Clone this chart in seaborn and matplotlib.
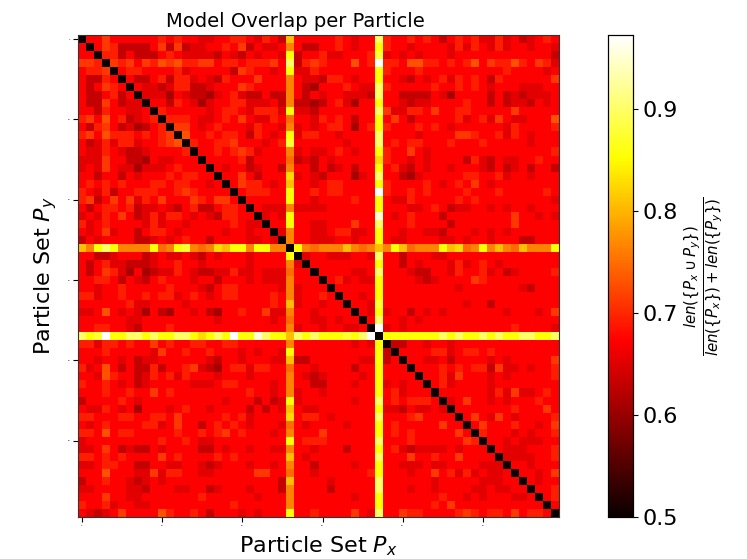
import numpy as np
import matplotlib
matplotlib.use("Agg")
import matplotlib.pyplot as plt
import seaborn as sns

# ---------------- data ----------------
n_particles = 60
tick_positions = [0, 10, 20, 30, 40, 50]
tick_labels = ["0", "10", "20", "30", "40", "50"]
diagonal_value = 0.5

# colour levels (digit = red shades, letters = orange..white)
level_values = {
    "2": 0.612, "3": 0.632, "4": 0.652, "5": 0.672, "6": 0.692,
    "7": 0.712, "8": 0.730, "9": 0.748,
    "A": 0.765, "B": 0.785, "C": 0.807, "D": 0.825, "E": 0.853,
    "F": 0.875, "G": 0.900, "H": 0.925, "I": 0.950, "J": 0.972,
}

# lower triangle, row i holds columns 0 .. i-1 (matrix is symmetric)
lower_rows = [
    "5",
    "55",
    "776",
    "5667",
    "53365",
    "535765",
    "5335635",
    "53375344",
    "553655445",
    "6758563456",
    "53675342356",
    "675866656567",
    "5346466455678",
    "54465433455556",
    "444755332544555",
    "4547544244456555",
    "55355354555656655",
    "565656555665665545",
    "6546355666556765555",
    "67357574657555765775",
    "53566563445435633566" + "5",
    "45465753464665454366" + "55",
    "64565555464554555556" + "544",
    "54574553566545555545" + "5455",
    "35455553345456553555" + "54454",
    "CAEGEAAAAE9AEFA9ADCE" + "EAEEAA",
    "55334555345445435455" + "545555E",
    "53564433345565545555" + "545555A4",
    "53576425234465433446" + "445444955",
    "55665354356555455355" + "545444A555",
    "55455655555655543566" + "555554A4555",
    "66455655656645654566" + "555565A45565",
    "55555564455554555555" + "555565C455455",
    "44585454253255453255" + "655744A5545555",
    "55555544555555555455" + "555545955445455",
    "55665543555655555555" + "555555A455455445",
    "GEFJEEGGEGEEGGEDEGEJ" + "EEIGEECGEGEEEFEGJ",
    "66466565575655665566" + "555555A5555555454E",
    "55565555547556556555" + "454554E5555555555E3",
    "55455453445555554355" + "455544C3355555544E35",
    "64585353363556743256" + "64665595545555355E55" + "5",
    "55486553465646555455" + "545555A5434555545E55" + "55",
    "65565453455555444566" + "555545A5533555455E45" + "455",
    "55565565575655555555" + "565545A4554555555E56" + "4555",
    "35555654555555555545" + "553534E4555555455G56" + "56665",
    "54465452555456554555" + "535354C5445555555E44" + "354454",
    "66555665566575555565" + "645555D5665455555G55" + "5675555",
    "54565555664575535656" + "54555495455554555E56" + "55555755",
    "66585665555565565675" + "655545A5557555555E56" + "565555575",
    "45555555556556544555" + "555555E5666555555G55" + "5655555576",
    "44575343354555533545" + "545544A5545553555E56" + "43444454555",
    "66565655557565555656" + "555555C5455555555G55" + "575565575555",
    "44566553355445543455" + "545545A5535555455E55" + "4445445555444",
    "55585554474665544555" + "55775595545555556E55" + "54557564645445",
    "35565543454555555555" + "555553C5555455555G55" + "555545555544455",
    "44555544355544553455" + "545553A5555355555G55" + "5455455554454455",
    "55575544555555565555" + "554555A5555555455E55" + "55555655454555445",
    "65564554455555555556" + "555555A5555555555E55" + "555565755555555555",
    "54345755558655653555" + "454555E5565555754G55" + "7665555676566575665",
]

# ---------------- build matrix ----------------
bad = [(i + 1, len(s)) for i, s in enumerate(lower_rows) if len(s) != i + 1]
if bad:
    raise ValueError(f"row length mismatch: {bad}")

overlap = np.full((n_particles, n_particles), diagonal_value)
for i, row in enumerate(lower_rows, start=1):
    for j, ch in enumerate(row):
        overlap[i, j] = level_values[ch]
        overlap[j, i] = level_values[ch]

# ---------------- plot ----------------
fig = plt.figure(figsize=(7.47, 5.59), dpi=100)
ax = fig.add_axes([78 / 747, 42 / 559, 481 / 747, 482 / 559])
cax = fig.add_axes([608 / 747, 42 / 559, 25 / 747, 482 / 559])

sns.heatmap(overlap, ax=ax, cbar_ax=cax, cmap="hot",
            vmin=0.5, vmax=max(level_values.values()),
            xticklabels=False, yticklabels=False)

ax.set_xticks([p + 0.5 for p in tick_positions])
ax.set_xticklabels(tick_labels, fontsize=1.5, rotation=0)
ax.set_yticks([p + 0.5 for p in tick_positions])
ax.set_yticklabels(tick_labels, fontsize=1.5, rotation=0)
ax.tick_params(axis="both", length=3.5, width=0.8, color="black", pad=2)
for s in ax.spines.values():
    s.set_visible(True)
    s.set_linewidth(0.8)
    s.set_color("#333333")

ax.set_title("Model Overlap per Particle", fontsize=14, pad=6,
             x=(295 - 78) / 481)
ax.set_xlabel("Particle Set $P_x$", fontsize=16, labelpad=6)
ax.set_ylabel("Particle Set $P_y$", fontsize=16, labelpad=6)

cax.set_yticks([0.5, 0.6, 0.7, 0.8, 0.9])
cax.set_yticklabels(["0.5", "0.6", "0.7", "0.8", "0.9"])
cax.tick_params(labelsize=16, length=3.5, width=0.8)
cax.set_ylabel(r"$\frac{len(\{P_x \cup P_y\})}{len(\{P_x\}) + len(\{P_y\})}$",
               fontsize=15.5, rotation=90, labelpad=3)
for s in cax.spines.values():
    s.set_visible(True)
    s.set_linewidth(0.8)

fig.savefig("out.png", dpi=100)
